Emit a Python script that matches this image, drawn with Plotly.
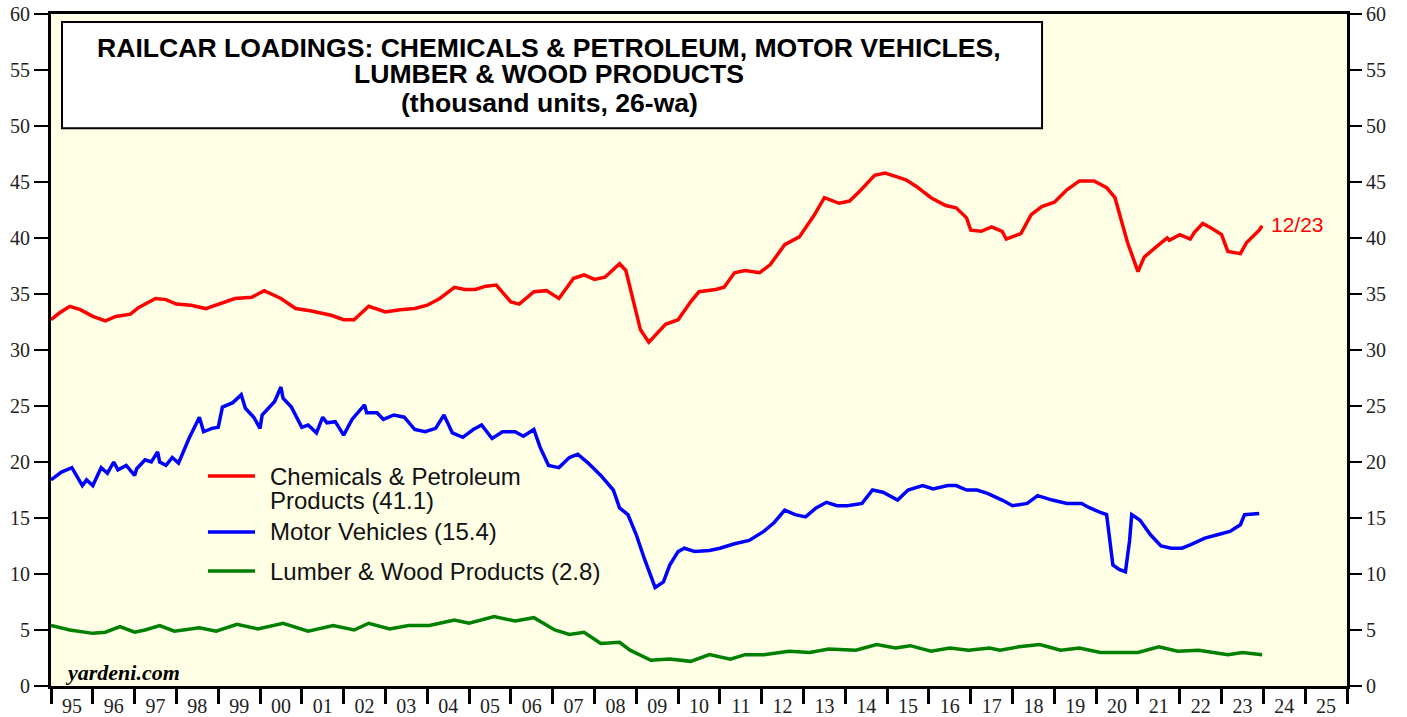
import plotly.graph_objects as go

# chemicals & petroleum products (thousand units, 26-wa)
chem_years = [1995.0, 1995.2, 1995.45, 1995.7, 1996.0, 1996.3, 1996.55, 1996.9, 1997.1, 1997.5,
              1997.75, 1998.0, 1998.35, 1998.7, 1999.4, 1999.8, 2000.1, 2000.5, 2000.85, 2001.2,
              2001.7, 2002.0, 2002.25, 2002.6, 2003.0, 2003.35, 2003.7, 2004.0, 2004.3, 2004.65,
              2004.9, 2005.15, 2005.4, 2005.65, 2006.0, 2006.2, 2006.55, 2006.85, 2007.15, 2007.5,
              2007.75, 2008.0, 2008.25, 2008.6, 2008.75, 2008.9, 2009.1, 2009.3, 2009.45, 2009.7,
              2010.0, 2010.3, 2010.5, 2010.9, 2011.1, 2011.35, 2011.6, 2011.95, 2012.2, 2012.55,
              2012.9, 2013.25, 2013.5, 2013.85, 2014.1, 2014.35, 2014.7, 2014.95, 2015.2, 2015.45,
              2015.7, 2016.05, 2016.4, 2016.65, 2016.9, 2017.0, 2017.25, 2017.5, 2017.75, 2017.85,
              2018.2, 2018.45, 2018.7, 2019.0, 2019.3, 2019.6, 2019.95, 2020.25, 2020.45, 2020.75,
              2021.0, 2021.15, 2021.5, 2021.7, 2021.75, 2022.0, 2022.25, 2022.35, 2022.55, 2022.75,
              2023.0, 2023.15, 2023.45, 2023.6, 2023.9, 2023.97]
chem_vals = [32.7, 33.3, 33.9, 33.6, 33.0, 32.6, 33.0, 33.2, 33.8, 34.6,
             34.5, 34.1, 34.0, 33.7, 34.6, 34.7, 35.3, 34.6, 33.7, 33.5,
             33.1, 32.7, 32.7, 33.9, 33.4, 33.6, 33.7, 34.0, 34.6, 35.6,
             35.4, 35.4, 35.7, 35.8, 34.3, 34.1, 35.2, 35.3, 34.6, 36.4,
             36.7, 36.3, 36.5, 37.7, 37.1, 34.9, 31.8, 30.7, 31.3, 32.3,
             32.7, 34.3, 35.2, 35.4, 35.6, 36.9, 37.1, 36.9, 37.6, 39.4,
             40.1, 42.0, 43.6, 43.1, 43.3, 44.2, 45.6, 45.8, 45.5, 45.2,
             44.6, 43.6, 42.9, 42.7, 41.8, 40.7, 40.6, 41.0, 40.6, 39.9,
             40.4, 42.1, 42.8, 43.2, 44.3, 45.1, 45.1, 44.5, 43.6, 39.6,
             37.0, 38.3, 39.4, 40.0, 39.8, 40.3, 39.9, 40.5, 41.3, 40.9,
             40.3, 38.8, 38.6, 39.6, 40.7, 41.1]

# motor vehicles
motor_years = [1995.0, 1995.25, 1995.5, 1995.75, 1995.85, 1996.0, 1996.2, 1996.35, 1996.5, 1996.6,
               1996.8, 1997.0, 1997.05, 1997.25, 1997.4, 1997.55, 1997.6, 1997.75, 1997.9, 1998.05,
               1998.3, 1998.55, 1998.65, 1998.85, 1999.0, 1999.1, 1999.35, 1999.55, 1999.65, 1999.85,
               2000.0, 2000.05, 2000.35, 2000.5, 2000.55, 2000.75, 2001.0, 2001.15, 2001.35, 2001.5,
               2001.6, 2001.8, 2002.0, 2002.2, 2002.5, 2002.55, 2002.8, 2002.95, 2003.2, 2003.45,
               2003.7, 2003.95, 2004.2, 2004.4, 2004.6, 2004.85, 2005.1, 2005.3, 2005.55, 2005.8,
               2006.1, 2006.3, 2006.55, 2006.7, 2006.9, 2007.15, 2007.4, 2007.6, 2007.85, 2008.15,
               2008.45, 2008.6, 2008.8, 2009.0, 2009.2, 2009.35, 2009.45, 2009.65, 2009.8, 2010.0,
               2010.15, 2010.4, 2010.75, 2011.0, 2011.35, 2011.7, 2012.05, 2012.3, 2012.55, 2012.8,
               2013.05, 2013.3, 2013.55, 2013.8, 2014.05, 2014.4, 2014.65, 2014.9, 2015.25, 2015.5,
               2015.85, 2016.1, 2016.45, 2016.65, 2016.9, 2017.15, 2017.4, 2017.75, 2018.0, 2018.35,
               2018.6, 2018.95, 2019.3, 2019.65, 2019.85, 2020.1, 2020.25, 2020.4, 2020.55, 2020.7,
               2020.8, 2020.85, 2021.05, 2021.3, 2021.55, 2021.8, 2022.05, 2022.25, 2022.6, 2022.9,
               2023.2, 2023.45, 2023.55, 2023.9]
motor_vals = [18.4, 19.1, 19.5, 17.9, 18.4, 17.9, 19.5, 19.0, 20.0, 19.3,
              19.7, 18.8, 19.4, 20.2, 20.0, 20.9, 20.0, 19.7, 20.4, 19.9,
              22.1, 24.0, 22.7, 23.0, 23.1, 24.9, 25.3, 26.0, 24.8, 24.0,
              23.0, 24.2, 25.4, 26.7, 25.7, 24.9, 23.1, 23.3, 22.6, 24.0,
              23.5, 23.6, 22.4, 23.8, 25.1, 24.4, 24.4, 23.8, 24.2, 24.0,
              22.9, 22.7, 23.0, 24.2, 22.6, 22.2, 22.9, 23.3, 22.1, 22.7,
              22.7, 22.3, 22.9, 21.3, 19.7, 19.5, 20.4, 20.7, 19.9, 18.8,
              17.5, 15.9, 15.3, 13.5, 11.3, 9.8, 8.8, 9.3, 10.8, 12.0,
              12.3, 12.0, 12.1, 12.3, 12.7, 13.0, 13.8, 14.6, 15.7, 15.3,
              15.1, 15.9, 16.4, 16.1, 16.1, 16.3, 17.5, 17.3, 16.6, 17.5,
              17.9, 17.6, 17.9, 17.9, 17.5, 17.5, 17.2, 16.6, 16.1, 16.3,
              17.0, 16.6, 16.3, 16.3, 15.9, 15.5, 15.3, 10.8, 10.4, 10.2,
              13.0, 15.3, 14.8, 13.5, 12.5, 12.3, 12.3, 12.6, 13.2, 13.5,
              13.8, 14.4, 15.3, 15.4]

# lumber & wood products
lumber_years = [1995.0, 1995.45, 1996.0, 1996.3, 1996.65, 1997.0, 1997.25, 1997.6, 1997.95, 1998.2,
                1998.55, 1998.95, 1999.45, 1999.95, 2000.55, 2001.15, 2001.75, 2002.25, 2002.6, 2003.1,
                2003.55, 2004.05, 2004.65, 2005.0, 2005.6, 2006.1, 2006.55, 2007.05, 2007.4, 2007.75,
                2008.15, 2008.6, 2008.85, 2009.35, 2009.8, 2010.3, 2010.75, 2011.25, 2011.6, 2012.05,
                2012.65, 2013.15, 2013.6, 2014.25, 2014.75, 2015.2, 2015.55, 2016.05, 2016.5, 2016.95,
                2017.45, 2017.7, 2018.15, 2018.65, 2019.15, 2019.6, 2020.1, 2020.55, 2021.0, 2021.5,
                2021.95, 2022.45, 2023.15, 2023.5, 2023.97]
lumber_vals = [5.4, 5.0, 4.7, 4.8, 5.3, 4.8, 5.0, 5.4, 4.9, 5.0,
               5.2, 4.9, 5.5, 5.1, 5.6, 4.9, 5.4, 5.0, 5.6, 5.1,
               5.4, 5.4, 5.9, 5.6, 6.2, 5.8, 6.1, 5.0, 4.6, 4.8,
               3.8, 3.9, 3.2, 2.3, 2.4, 2.2, 2.8, 2.4, 2.8, 2.8,
               3.1, 3.0, 3.3, 3.2, 3.7, 3.4, 3.6, 3.1, 3.4, 3.2,
               3.4, 3.2, 3.5, 3.7, 3.2, 3.4, 3.0, 3.0, 3.0, 3.5,
               3.1, 3.2, 2.8, 3.0, 2.8]

year_ticks = list(range(1995, 2027))
year_labels = [f"{y % 100:02d}" for y in range(1995, 2026)]

series_names = ["Chemicals & Petroleum Products (41.1)", "Motor Vehicles (15.4)",
                "Lumber & Wood Products (2.8)"]
series_colors = ["#ff0000", "#0000ff", "#008000"]
title_lines = ["RAILCAR LOADINGS: CHEMICALS & PETROLEUM, MOTOR VEHICLES,",
               "LUMBER & WOOD PRODUCTS", "(thousand units, 26-wa)"]

fig = go.Figure()
for xs, ys, name, color in zip([chem_years, motor_years, lumber_years],
                               [chem_vals, motor_vals, lumber_vals],
                               series_names, series_colors):
    fig.add_trace(go.Scatter(x=xs, y=ys, mode="lines", name=name,
                             line=dict(color=color, width=3.5)))
# invisible trace so the right-hand axis gets drawn
fig.add_trace(go.Scatter(x=[chem_years[0]], y=[chem_vals[0]], yaxis="y2", mode="lines",
                         showlegend=False, hoverinfo="skip", line=dict(width=0)))

tick_font = dict(family="Liberation Serif", size=20, color="#222")

fig.update_layout(
    width=1407, height=717,
    margin=dict(l=51, r=60, t=14, b=31),
    paper_bgcolor="white",
    plot_bgcolor="#ffffe6",
    showlegend=False,
    xaxis=dict(range=[1995, 2026], tickmode="array", automargin=False,
               tickvals=[y + 0.5 for y in range(1995, 2026)], ticktext=year_labels,
               ticks="", tickfont=tick_font, showgrid=False, zeroline=False,
               showline=True, linecolor="black", linewidth=3, mirror=True,
               minor=dict(tickmode="array", tickvals=year_ticks, ticks="outside",
                          ticklen=15, tickwidth=3, tickcolor="black", showgrid=False)),
    yaxis=dict(range=[0, 60], dtick=5, ticks="outside", ticklen=14, tickwidth=1.5,
               tickcolor="black", tickfont=tick_font, showgrid=False, zeroline=False,
               automargin=False, showline=True, linecolor="black", linewidth=3, mirror=True),
    yaxis2=dict(range=[0, 60], dtick=5, overlaying="y", side="right", ticks="outside",
                ticklen=14, tickwidth=1.5, tickcolor="black", tickfont=tick_font,
                automargin=False, showgrid=False, zeroline=False, showline=False),
)

# title box
fig.add_shape(type="rect", xref="paper", yref="paper", x0=0.0085, x1=0.7647, y0=0.830, y1=0.988,
              line=dict(color="black", width=2), fillcolor="white")
for text, ty in zip(title_lines, [0.9494, 0.9107, 0.8675]):
    fig.add_annotation(xref="paper", yref="paper", x=0.3843, y=ty, xanchor="center",
                       yanchor="middle", showarrow=False, text=f"<b>{text}</b>",
                       font=dict(family="Liberation Sans", size=26.6, color="black"))

# legend drawn by hand to match the original spacing
legend_rows = [(0.3125, 0.3125, "Chemicals & Petroleum"), (None, 0.2753, "Products (41.1)"),
               (0.2292, 0.2292, series_names[1]), (0.1711, 0.1711, series_names[2])]
legend_colors = [series_colors[0], None, series_colors[1], series_colors[2]]
for (ly, ty, text), color in zip(legend_rows, legend_colors):
    if color is not None:
        fig.add_shape(type="line", xref="paper", yref="paper", x0=0.1211, x1=0.1574,
                      y0=ly, y1=ly, line=dict(color=color, width=3.5))
    fig.add_annotation(xref="paper", yref="paper", x=0.1674, y=ty, xanchor="left",
                       yanchor="middle", showarrow=False, text=text,
                       font=dict(family="Liberation Sans", size=24, color="#111"))

fig.add_annotation(x=chem_years[-1], y=chem_vals[-1], text="12/23", showarrow=False,
                   xanchor="left", yanchor="middle", xshift=7, yshift=1,
                   font=dict(family="Liberation Sans", size=21, color="#ff0000"))
fig.add_annotation(xref="paper", yref="paper", x=0.0093, y=0.0208, xanchor="left",
                   yanchor="middle", showarrow=False, text="<b><i>yardeni.com</i></b>",
                   font=dict(family="Liberation Serif", size=22, color="black"))

# drop the browser's default 8px body margin so the figure sits at the page corner
fig.write_html("out.html", config={"displayModeBar": False},
               post_script="document.body.style.margin = '0';")
